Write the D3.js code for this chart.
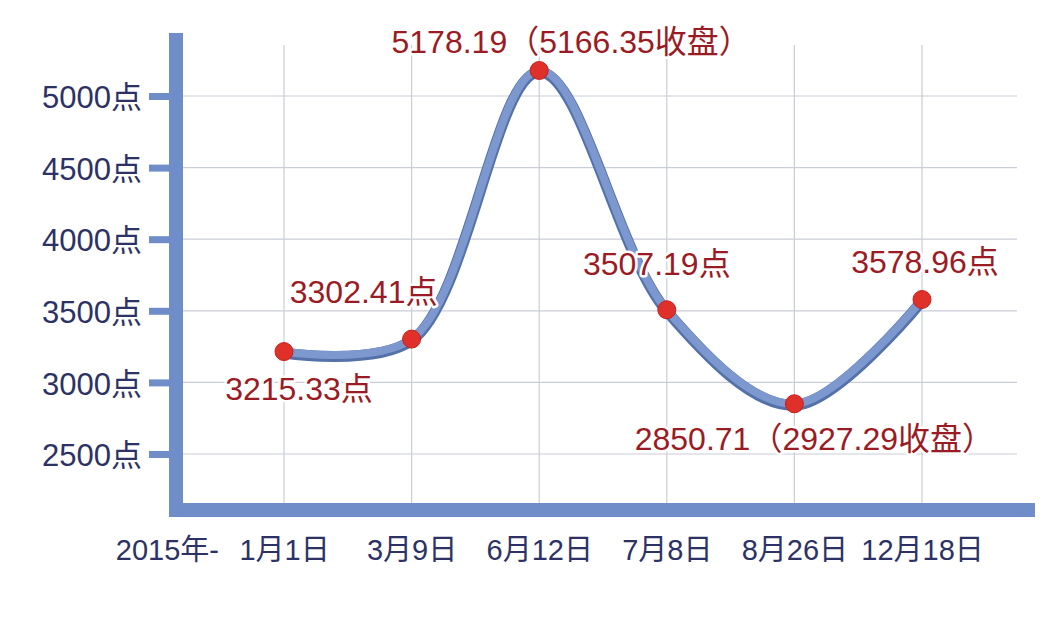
<!DOCTYPE html>
<html>
<head>
<meta charset="utf-8">
<script src="https://cdn.jsdelivr.net/npm/d3@7"></script>
<style>
  html, body { margin: 0; padding: 0; background: #fff; }
  svg text { font-family: "Liberation Sans", "Noto Sans CJK SC", sans-serif; }
</style>
</head>
<body>
<div id="chart"></div>
<script>
// 2015 index curve
const dates = ["1月1日", "3月9日", "6月12日", "7月8日", "8月26日", "12月18日"];
const points = [3215.33, 3302.41, 5178.19, 3507.19, 2850.71, 3578.96];
const labels = ["3215.33点", "3302.41点", "5178.19（5166.35收盘）", "3507.19点", "2850.71（2927.29收盘）", "3578.96点"];
const yTicks = [2500, 3000, 3500, 4000, 4500, 5000];
const yearLabel = "2015年-";

// where each label sits relative to its dot
const labelOffsets = [[15, 48], [-48, -36], [32, -17], [-10, -35], [20, 46], [3, -26]];

const width = 1060, height = 630;
const axisColor = "#6f8dc8";

const svg = d3.select("#chart")
    .append("svg")
        .attr("width", width)
        .attr("height", height);

const x = d3.scalePoint()
    .domain(dates)
    .range([284, 922]);

const y = d3.scaleLinear()
    .domain([2500, 5000])
    .range([454, 96]);

// grid
svg.append("g")
    .selectAll("line")
    .data(yTicks)
    .join("line")
        .attr("x1", 183).attr("x2", 1017)
        .attr("y1", d => y(d)).attr("y2", d => y(d))
        .attr("stroke", "#c9cdd8")
        .attr("stroke-width", 1.2);

svg.append("g")
    .selectAll("line")
    .data(dates)
    .join("line")
        .attr("x1", d => x(d)).attr("x2", d => x(d))
        .attr("y1", 45).attr("y2", 503)
        .attr("stroke", "#c9cdd8")
        .attr("stroke-width", 1.2);

// y axis ticks + labels
const yAxis = svg.append("g")
    .attr("transform", "translate(169,0)")
    .call(d3.axisLeft(y)
        .tickValues(yTicks)
        .tickSize(20)
        .tickPadding(7)
        .tickFormat(d => d + "点"));
yAxis.select(".domain").remove();
yAxis.selectAll(".tick line")
    .attr("stroke", axisColor)
    .attr("stroke-width", 7);
yAxis.selectAll(".tick text")
    .attr("fill", "#2d3266")
    .attr("font-size", 31)
    .attr("dy", "0.38em");

// x labels
const xAxis = svg.append("g")
    .attr("transform", "translate(0,510)")
    .call(d3.axisBottom(x).tickSize(0).tickPadding(0));
xAxis.select(".domain").remove();
xAxis.selectAll(".tick text")
    .attr("fill", "#2d3266")
    .attr("font-size", 29)
    .attr("y", 50)
    .attr("dy", 0);

svg.append("text")
    .attr("x", 219)
    .attr("y", 560)
    .attr("text-anchor", "end")
    .attr("fill", "#2d3266")
    .attr("font-size", 29)
    .text(yearLabel);

// thick axis lines
svg.append("line")
    .attr("x1", 176).attr("x2", 176)
    .attr("y1", 33).attr("y2", 517)
    .attr("stroke", axisColor)
    .attr("stroke-width", 14);
svg.append("line")
    .attr("x1", 169).attr("x2", 1035)
    .attr("y1", 510).attr("y2", 510)
    .attr("stroke", axisColor)
    .attr("stroke-width", 14);

// curve
const line = d3.line()
    .x((d, i) => x(dates[i]))
    .y(d => y(d))
    .curve(d3.curveCatmullRom);

svg.append("path")
    .datum(points)
    .attr("fill", "none")
    .attr("stroke", "#5571aa")
    .attr("stroke-width", 11)
    .attr("stroke-linecap", "round")
    .attr("transform", "translate(0,1.5)")
    .attr("d", line);

svg.append("path")
    .datum(points)
    .attr("fill", "none")
    .attr("stroke", "#7c98cf")
    .attr("stroke-width", 8)
    .attr("stroke-linecap", "round")
    .attr("d", line);

// dots
svg.append("g")
    .selectAll("circle")
    .data(points)
    .join("circle")
        .attr("cx", (d, i) => x(dates[i]))
        .attr("cy", d => y(d))
        .attr("r", 9)
        .attr("fill", "#e0302a")
        .attr("stroke", "#c4201c")
        .attr("stroke-width", 1);

// value labels
svg.append("g")
    .selectAll("text")
    .data(points)
    .join("text")
        .attr("x", (d, i) => x(dates[i]) + labelOffsets[i][0])
        .attr("y", (d, i) => y(d) + labelOffsets[i][1])
        .attr("text-anchor", "middle")
        .attr("font-size", 32)
        .attr("fill", "#9b1b24")
        .attr("stroke", "#fff")
        .attr("stroke-width", 5)
        .attr("stroke-linejoin", "round")
        .attr("paint-order", "stroke")
        .text((d, i) => labels[i]);
</script>
</body>
</html>
